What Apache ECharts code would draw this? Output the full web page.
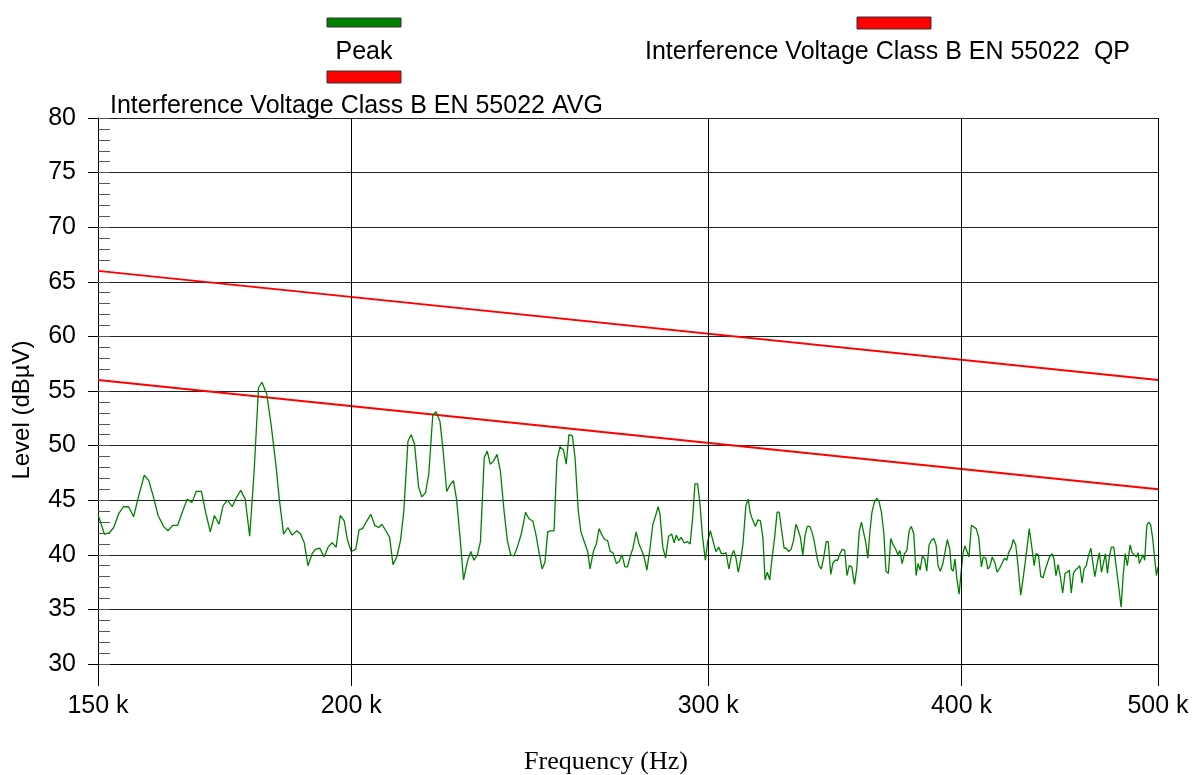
<!DOCTYPE html>
<html>
<head>
<meta charset="utf-8">
<script src="https://cdn.jsdelivr.net/npm/echarts@6.0.0/dist/echarts.min.js"></script>
<style>
html,body{margin:0;padding:0;background:#fff;}
#chart{width:1193px;height:775px;}
</style>
</head>
<body>
<div id="chart"></div>
<script>
// Frequency grid (kHz) and Peak level (dBµV)
const freqKHz = [
150.0,151.1,151.9,152.7,153.6,154.4,155.3,156.2,157.1,158.1,158.9,159.7,160.6,161.6,162.4,163.3,164.2,165.0,166.0,166.9,
167.7,168.7,169.5,170.4,171.2,172.1,172.9,173.8,174.7,175.5,176.4,177.3,178.2,179.1,180.0,180.7,181.7,182.6,183.6,184.3,
185.2,186.1,187.0,188.0,188.8,189.6,190.4,191.3,192.0,193.0,193.9,194.8,195.7,196.6,197.5,198.4,199.1,200.0,201.0,201.8,
202.6,203.4,204.5,205.4,206.3,207.1,208.0,208.9,209.7,210.6,211.5,212.3,213.3,214.1,214.9,215.9,216.7,217.6,218.4,219.4,
220.2,221.2,222.0,222.9,223.7,224.6,225.4,226.3,227.2,228.2,229.1,229.9,230.8,231.6,232.6,233.4,234.2,235.1,236.0,236.9,
237.9,238.8,239.7,240.6,241.5,242.6,243.8,244.7,245.8,246.7,247.5,248.4,249.2,250.0,250.8,251.8,252.6,253.5,254.5,255.3,
256.1,257.1,257.9,258.8,259.6,260.6,261.6,262.3,263.3,264.2,265.0,265.9,266.7,267.6,268.4,269.2,270.3,271.2,272.0,272.9,
273.7,274.6,275.4,276.4,277.3,278.3,279.0,279.8,280.8,281.7,282.5,283.4,284.0,284.9,285.8,286.8,287.8,288.6,289.3,290.1,
290.9,291.9,293.0,293.9,294.8,295.5,296.4,297.2,298.0,299.0,299.8,300.7,301.6,302.6,303.6,304.5,305.4,306.1,307.1,308.0,
308.8,309.6,310.4,311.3,312.1,313.1,313.9,314.7,315.5,316.5,317.4,318.3,319.2,320.0,320.8,321.7,322.5,323.5,324.4,325.2,
326.1,327.0,327.8,328.7,329.6,330.5,331.4,332.2,333.1,334.0,334.9,335.7,336.7,337.5,338.4,339.4,340.2,341.1,342.0,343.0,
343.8,344.8,345.7,346.6,347.5,348.4,349.3,350.3,351.2,352.1,353.1,354.2,355.1,356.1,357.0,357.8,358.8,359.6,360.5,361.3,
362.3,363.3,364.2,365.2,366.2,367.1,368.1,369.1,370.1,371.0,372.1,372.9,373.9,374.9,375.9,376.9,377.8,378.9,379.9,380.7,
381.6,382.6,383.6,384.5,385.5,386.5,387.6,388.6,389.5,390.5,391.6,392.6,393.6,394.7,395.4,396.2,397.0,397.9,398.9,399.8,
400.7,401.5,402.5,403.4,404.5,405.4,406.7,407.9,409.1,410.0,411.2,412.1,413.0,414.2,415.4,416.5,417.8,419.0,420.1,421.1,
422.0,423.3,424.2,425.4,426.5,427.8,429.1,430.4,432.0,433.3,434.4,435.3,436.5,437.7,438.8,440.0,441.0,442.0,443.3,444.3,
445.3,446.4,447.5,448.7,449.9,451.1,452.1,453.1,454.2,455.2,456.5,457.5,458.7,459.7,460.9,462.0,463.3,464.3,465.4,466.6,
467.8,468.9,469.9,471.0,472.1,473.1,474.2,475.5,476.6,477.8,479.5,480.6,481.7,482.9,484.4,485.5,486.6,487.9,488.8,489.5,
490.6,491.6,492.5,493.7,494.8,495.9,497.0,498.2,499.1,500.0
];
const peakLevel = [
43.7,41.9,42.0,42.5,43.8,44.4,44.4,43.5,45.4,47.3,46.8,45.4,43.6,42.6,42.2,42.7,42.7,43.8,45.1,44.8,
45.8,45.8,43.9,42.1,43.6,42.8,44.5,45.0,44.4,45.2,45.9,45.1,41.7,47.6,55.3,55.8,54.7,51.9,48.2,45.1,
41.9,42.5,41.8,42.2,41.9,41.1,39.0,40.1,40.5,40.6,39.8,40.7,41.1,40.7,43.6,43.1,41.4,40.3,40.5,42.3,
42.4,43.0,43.7,42.7,42.5,42.8,42.2,41.6,39.1,39.8,41.3,44.0,50.4,51.0,50.1,46.2,45.3,45.7,47.4,52.8,
53.1,52.2,49.5,45.8,46.4,46.8,45.1,41.6,37.7,39.4,40.3,39.5,40.0,41.2,48.9,49.5,48.3,48.6,49.2,47.7,
44.0,41.3,40.0,39.9,40.7,41.9,43.9,43.3,43.1,41.8,40.3,38.7,39.3,42.1,42.2,42.2,48.6,49.9,49.6,48.3,
51.0,50.9,48.8,44.1,42.1,41.2,40.3,38.7,40.3,41.0,42.4,41.8,41.4,41.3,40.3,40.2,39.2,39.4,40.0,38.9,
38.9,39.9,40.6,42.1,41.0,40.3,39.7,38.6,40.6,42.8,43.5,44.4,43.7,40.7,39.7,41.7,41.9,41.1,41.8,41.3,
41.6,41.1,41.2,41.0,43.6,46.5,46.5,44.6,41.8,39.5,41.2,42.2,41.3,40.3,40.7,40.1,40.1,40.2,38.7,39.9,
40.4,39.7,38.4,39.6,41.1,44.5,45.1,43.8,43.2,42.6,43.2,43.1,41.6,37.7,38.4,37.7,39.6,41.6,43.9,43.9,
42.2,40.6,40.6,40.3,40.5,41.3,42.8,42.3,41.6,40.0,41.8,42.6,42.6,42.1,41.2,39.8,39.0,38.7,39.7,41.2,
41.2,38.2,39.3,39.5,39.5,40.1,40.5,40.4,38.1,39.0,38.9,37.3,38.7,42.1,43.0,42.9,41.1,39.7,42.2,43.9,
44.8,45.2,44.9,43.9,42.0,38.5,38.3,41.5,40.9,40.6,40.0,40.4,39.2,40.1,40.4,42.2,42.6,41.9,38.1,39.2,
38.6,39.9,39.6,38.5,40.9,41.3,41.5,40.9,39.0,38.5,39.2,40.3,41.4,40.5,38.7,38.5,39.6,37.8,36.4,38.4,
40.2,40.8,40.3,39.8,42.7,42.8,42.4,41.6,38.9,39.8,39.7,38.7,38.9,39.8,39.3,38.4,38.8,39.3,39.7,39.5,
40.2,40.7,41.4,40.9,39.0,36.3,38.0,39.9,42.4,40.6,39.0,40.1,40.0,38.0,37.9,38.7,38.6,39.8,40.1,39.6,
38.1,39.1,38.0,36.5,38.3,38.4,38.6,36.5,38.3,38.6,38.8,39.0,37.4,38.7,39.0,39.9,40.6,39.3,38.0,39.2,
40.2,38.4,39.2,40.1,38.3,39.8,40.7,40.7,39.2,37.6,35.2,38.1,40.1,39.0,40.9,40.2,40.3,39.8,40.2,39.2,
39.3,40.0,39.5,42.7,43.0,42.7,41.5,39.5,38.1,38.9
];
// Limit lines (EN 55022 Class B), endpoints in kHz / dBµV
const limitFreqKHz = [150, 500];
const qpLimit = [66, 56];
const avgLimit = [56, 46];
// Axis tick values
const xTickKHz = [150, 200, 300, 400, 500];
const yMin = 30, yMax = 80, yStep = 5;

const FONT = '"Liberation Sans", Arial, Helvetica, sans-serif';
const toHz = k => k * 1000;
const peakData = freqKHz.map((f, i) => [toHz(f), peakLevel[i]]);
const qpData = limitFreqKHz.map((f, i) => [toHz(f), qpLimit[i]]);
const avgData = limitFreqKHz.map((f, i) => [toHz(f), avgLimit[i]]);
const xTicks = xTickKHz.map(toHz);

const chart = echarts.init(document.getElementById('chart'), null, {renderer: 'canvas'});
chart.setOption({
  animation: false,
  backgroundColor: '#ffffff',
  grid: {left: 98, right: 35, top: 118, bottom: 111, containLabel: false},
  xAxis: {
    type: 'log', logBase: 10, min: toHz(150), max: toHz(500),
    axisLine: {show: true, lineStyle: {color: '#000', width: 1}},
    axisTick: {show: true, customValues: xTicks, length: 22, lineStyle: {color: '#000', width: 1}},
    axisLabel: {
      show: true, customValues: xTicks, margin: 30, color: '#000',
      fontSize: 25, fontFamily: FONT,
      formatter: v => Math.round(v / 1000) + ' k'
    },
    splitLine: {show: false},
    minorTick: {show: false}
  },
  yAxis: [{
    type: 'value', min: yMin, max: yMax, interval: yStep,
    axisLine: {show: true, lineStyle: {color: '#000', width: 1}},
    axisTick: {show: true, inside: false, length: 10, lineStyle: {color: '#000', width: 1}},
    axisLabel: {show: true, margin: 22, color: '#000', fontSize: 25, fontFamily: FONT},
    splitLine: {show: true, lineStyle: {color: '#222', width: 1}}
  }, {
    type: 'value', min: yMin, max: yMax, interval: 1, position: 'left',
    axisLine: {show: false},
    axisTick: {show: true, inside: true, length: 12, lineStyle: {color: '#555', width: 1}},
    axisLabel: {show: false},
    splitLine: {show: false}
  }],
  series: [{
    name: 'Interference Voltage Class B EN 55022  QP',
    type: 'line', data: qpData, symbol: 'none', z: 2,
    lineStyle: {color: '#ff0000', width: 2},
    markLine: {
      silent: true, symbol: 'none', animation: false,
      label: {show: false},
      lineStyle: {color: '#000', width: 1, type: 'solid'},
      data: xTicks.slice(1).map(v => ({xAxis: v}))
    }
  }, {
    name: 'Interference Voltage Class B EN 55022 AVG',
    type: 'line', data: avgData, symbol: 'none', z: 2,
    lineStyle: {color: '#ff0000', width: 2}
  }, {
    name: 'Peak',
    type: 'line', data: peakData, symbol: 'none', z: 3,
    lineStyle: {color: '#008000', width: 1.3}
  }],
  graphic: [
    {type: 'rect', shape: {x: 327, y: 18, width: 74, height: 9}, style: {fill: '#008000', stroke: '#333', lineWidth: 1}},
    {type: 'text', x: 364, y: 52, style: {text: 'Peak', font: '25px ' + FONT, fill: '#000', align: 'center', verticalAlign: 'middle'}},
    {type: 'rect', shape: {x: 327, y: 71, width: 74, height: 12}, style: {fill: '#ff0000', stroke: '#333', lineWidth: 1}},
    {type: 'text', x: 110, y: 106, style: {text: 'Interference Voltage Class B EN 55022 AVG', font: '25px ' + FONT, fill: '#000', align: 'left', verticalAlign: 'middle'}},
    {type: 'rect', shape: {x: 857, y: 17, width: 74, height: 12}, style: {fill: '#ff0000', stroke: '#333', lineWidth: 1}},
    {type: 'text', x: 645, y: 52, style: {text: 'Interference Voltage Class B EN 55022  QP', font: '25px ' + FONT, fill: '#000', align: 'left', verticalAlign: 'middle'}},
    {type: 'text', x: 22, y: 410, rotation: Math.PI / 2, style: {text: 'Level (dBµV)', font: '24px ' + FONT, fill: '#000', align: 'center', verticalAlign: 'middle'}},
    {type: 'text', x: 606, y: 762, style: {text: 'Frequency (Hz)', font: '26px "Liberation Serif", "Times New Roman", serif', fill: '#000', align: 'center', verticalAlign: 'middle'}}
  ]
});
</script>
</body>
</html>
